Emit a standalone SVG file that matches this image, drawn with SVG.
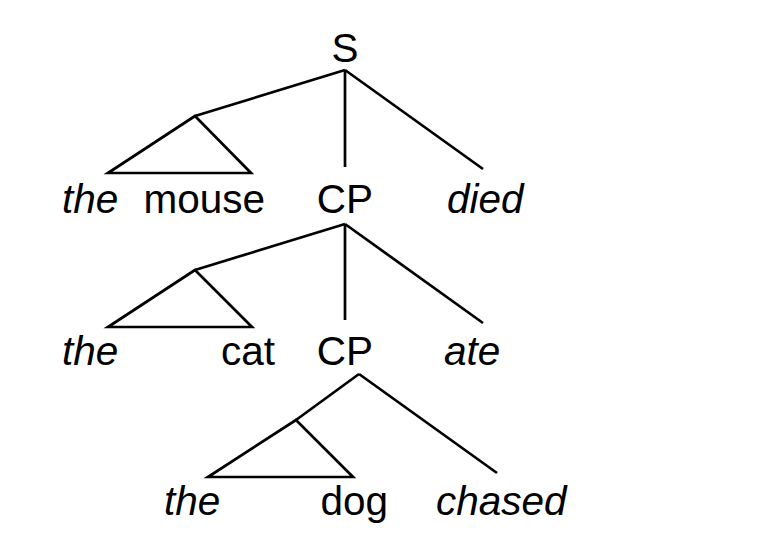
<svg xmlns="http://www.w3.org/2000/svg" width="770" height="542" viewBox="0 0 770 542">
<style>
text{font-family:"Liberation Sans",Arial,sans-serif;font-size:40.5px;fill:#000}
.i{font-style:italic}
.m{text-anchor:middle}
line,polygon{stroke:#000;stroke-width:2.7;fill:none;stroke-linejoin:miter}
</style>
<rect width="770" height="542" fill="#fff"/>
<g id="connectors">
<line x1="345" y1="70" x2="195" y2="116"/>
<polygon points="195,116 108,173 251,173"/>
<line x1="345" y1="70" x2="345" y2="167"/>
<line x1="345" y1="70" x2="483" y2="169"/>
<line x1="345" y1="224" x2="195" y2="270"/>
<polygon points="195,270 108,327 252,327"/>
<line x1="345" y1="224" x2="345" y2="320"/>
<line x1="345" y1="224" x2="483" y2="323"/>
<line x1="359" y1="374" x2="296" y2="420"/>
<polygon points="296,420 208,477 353,477"/>
<line x1="359" y1="374" x2="497" y2="473"/>
</g>
<g id="node-S"><text class="m" x="345" y="62">S</text></g>
<g id="node-the1"><text class="i" x="62" y="213">the</text></g>
<g id="node-mouse"><text x="143.5" y="213">mouse</text></g>
<g id="node-CP1"><text class="m" x="345" y="213">CP</text></g>
<g id="node-died"><text class="i" x="447" y="213">died</text></g>
<g id="node-the2"><text class="i" x="62" y="365">the</text></g>
<g id="node-cat"><text x="221" y="365">cat</text></g>
<g id="node-CP2"><text class="m" x="345" y="365">CP</text></g>
<g id="node-ate"><text class="i" x="444" y="365">ate</text></g>
<g id="node-the3"><text class="i" x="164" y="515">the</text></g>
<g id="node-dog"><text x="320.5" y="515">dog</text></g>
<g id="node-chased"><text class="i" x="436" y="515">chased</text></g>
</svg>
